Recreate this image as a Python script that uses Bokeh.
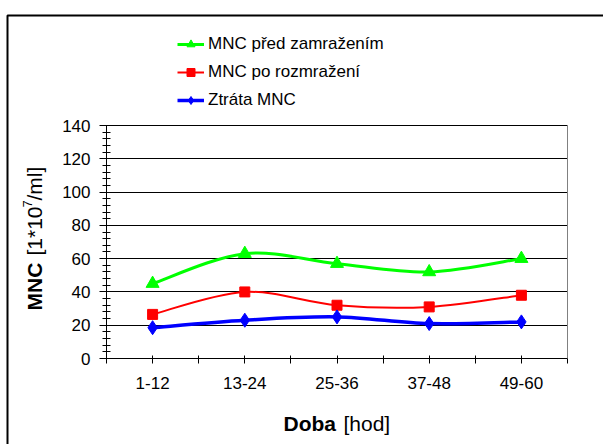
import numpy as np
from bokeh.plotting import figure
from bokeh.models import (Legend, LegendItem, Label, FixedTicker, LinearAxis,
                          SingleIntervalTicker, BoxAnnotation, Range1d, Grid)
from bokeh.embed import file_html
from bokeh.resources import INLINE

# MNC counts per storage interval [1*10^7/ml]
periods = ["1-12", "13-24", "25-36", "37-48", "49-60"]
before_freeze = [45, 63, 57, 52, 60]
after_thaw = [26.5, 40, 32, 31, 38]
mnc_loss = [18.5, 23, 25, 21, 22]

series_names = ["MNC před zamražením", "MNC po rozmražení", "Ztráta MNC"]
y_max = 140
y_step = 20

FONT = "Liberation Sans"
W, H = 603, 444
# plot area inside the canvas (pixels from the top-left corner)
AREA_L, AREA_R, AREA_T, AREA_B = 106, 567, 125, 358

xs = list(range(1, len(periods) + 1))
x_lo, x_hi = 0.5, len(periods) + 0.5

# the frame spans the whole canvas; axes are pinned to the plot area
kx = (x_hi - x_lo) / (AREA_R - AREA_L)
ky = y_max / (AREA_B - AREA_T)
x_range = Range1d(x_lo - AREA_L * kx, x_hi + (W - AREA_R) * kx)
y_range = Range1d(-(H - AREA_B) * ky, y_max + AREA_T * ky)


def sx(px):
    return px


def sy(py):
    return H - py


def smooth_segments(x, y):
    """Cubic bezier segments through the points (Catmull-Rom style)."""
    x = np.asarray(x, float)
    y = np.asarray(y, float)
    n = len(x)
    qx = np.concatenate([[x[0]], x, [x[-1]]])
    qy = np.concatenate([[y[0]], y, [y[-1]]])
    cx0 = qx[1:n] + (qx[2:n + 1] - qx[0:n - 1]) / 6
    cy0 = qy[1:n] + (qy[2:n + 1] - qy[0:n - 1]) / 6
    cx1 = qx[2:n + 1] - (qx[3:n + 2] - qx[1:n]) / 6
    cy1 = qy[2:n + 1] - (qy[3:n + 2] - qy[1:n]) / 6
    return dict(x0=x[:-1], y0=y[:-1], x1=x[1:], y1=y[1:],
                cx0=cx0, cy0=cy0, cx1=cx1, cy1=cy1)


p = figure(width=W, height=H, output_backend="svg", toolbar_location=None,
           x_range=x_range, y_range=y_range,
           min_border=0, min_border_left=0, min_border_right=0,
           min_border_top=0, min_border_bottom=0)
p.background_fill_color = "white"
p.border_fill_color = "white"
p.outline_line_color = None

# x axis: ticks at category centres and boundaries
half_ticks = [i * 0.5 for i in range(1, 2 * len(periods) + 2)]
xa = p.xaxis[0]
xa.fixed_location = 0
xa.bounds = (x_lo, x_hi)
xa.ticker = FixedTicker(ticks=half_ticks)
overrides = {}
for t in half_ticks:
    overrides[t] = periods[int(t) - 1] if float(t).is_integer() else ""
xa.major_label_overrides = overrides
xa.major_tick_in = 3
xa.major_tick_out = 5
xa.minor_tick_line_color = None
xa.axis_line_color = "black"
xa.major_tick_line_color = "black"
xa.major_label_text_font = FONT
xa.major_label_text_font_size = "17px"
xa.major_label_text_color = "black"
xa.major_label_standoff = 13

ya = p.yaxis[0]
ya.fixed_location = x_lo
ya.bounds = (0, y_max)
ya.ticker = SingleIntervalTicker(interval=y_step, num_minor_ticks=5)
ya.major_tick_in = 0
ya.major_tick_out = 7
ya.minor_tick_in = 4
ya.minor_tick_out = 4
ya.axis_line_color = "black"
ya.major_tick_line_color = "black"
ya.minor_tick_line_color = "black"
ya.major_label_text_font = FONT
ya.major_label_text_font_size = "17px"
ya.major_label_text_color = "black"
ya.major_label_standoff = 9

# right edge of the plot area
edge = LinearAxis(fixed_location=x_hi, bounds=(0, y_max),
                  ticker=FixedTicker(ticks=[]),
                  axis_line_color="#808080", major_tick_line_color=None,
                  minor_tick_line_color=None, major_label_text_color=None)
p.add_layout(edge, "right")

# horizontal gridlines, limited to the plot area
p.xgrid.grid_line_color = None
grid_vals = list(range(0, y_max + 1, y_step))
if "cross_bounds" in Grid.properties():
    p.ygrid.ticker = FixedTicker(ticks=grid_vals)
    p.ygrid.cross_bounds = (x_lo, x_hi)
    p.ygrid.grid_line_color = "black"
    p.ygrid.grid_line_width = 1
else:
    p.ygrid.grid_line_color = None
    p.segment(x0=[x_lo] * len(grid_vals), x1=[x_hi] * len(grid_vals),
              y0=grid_vals, y1=grid_vals, line_color="black", line_width=1,
              level="underlay")

styles = [
    (before_freeze, "#00FF00", 3, "triangle", 13),
    (after_thaw, "#FF0000", 2, "square", 10),
    (mnc_loss, "#0000FF", 3.5, "diamond", 14),
]
items = []
for name, (vals, color, lw, marker, size) in zip(series_names, styles):
    seg = smooth_segments(xs, vals)
    curve = p.bezier(source=seg, x0="x0", y0="y0", x1="x1", y1="y1",
                     cx0="cx0", cy0="cy0", cx1="cx1", cy1="cy1",
                     line_color=color, line_width=lw)
    pts = p.scatter(xs, vals, marker=marker, size=size,
                    fill_color=color, line_color=color)
    items.append(LegendItem(label=name, renderers=[curve, pts]))

legend = Legend(items=items, location=(sx(177), sy(110)),
                orientation="vertical",
                glyph_width=27, glyph_height=20, label_height=20,
                spacing=8, padding=0, margin=0, label_standoff=4,
                border_line_color=None, background_fill_alpha=0,
                label_text_font=FONT, label_text_font_size="17px",
                label_text_color="black")
p.add_layout(legend, "center")

# axis titles (bold name + regular unit)
title_font = "21px"


def add_text(px, py, text, bold=False, size=title_font, angle=0.0):
    p.add_layout(Label(x=sx(px), y=sy(py), x_units="screen", y_units="screen",
                       angle=angle, text=text, text_font=FONT,
                       text_font_style="bold" if bold else "normal",
                       text_font_size=size, text_color="black",
                       text_baseline="alphabetic", text_align="left"))


add_text(283, 423, "Doba", bold=True)
add_text(343, 423, "[hod]")

up = np.pi / 2
add_text(34, 310, "MNC", bold=True, angle=up)
add_text(34, 255, "[1*10", angle=up)
add_text(27, 207, "7", size="13px", angle=up)
add_text(34, 200, "/ml]", angle=up)

# outer chart border (left and top edges in view)
p.add_layout(BoxAnnotation(left=sx(7), right=sx(W + 50), top=sy(15),
                           bottom=sy(H + 50),
                           left_units="screen", right_units="screen",
                           bottom_units="screen", top_units="screen",
                           fill_alpha=0, line_color="black", line_alpha=1,
                           line_width=2))

open("out.html", "w").write(file_html(p, INLINE))
